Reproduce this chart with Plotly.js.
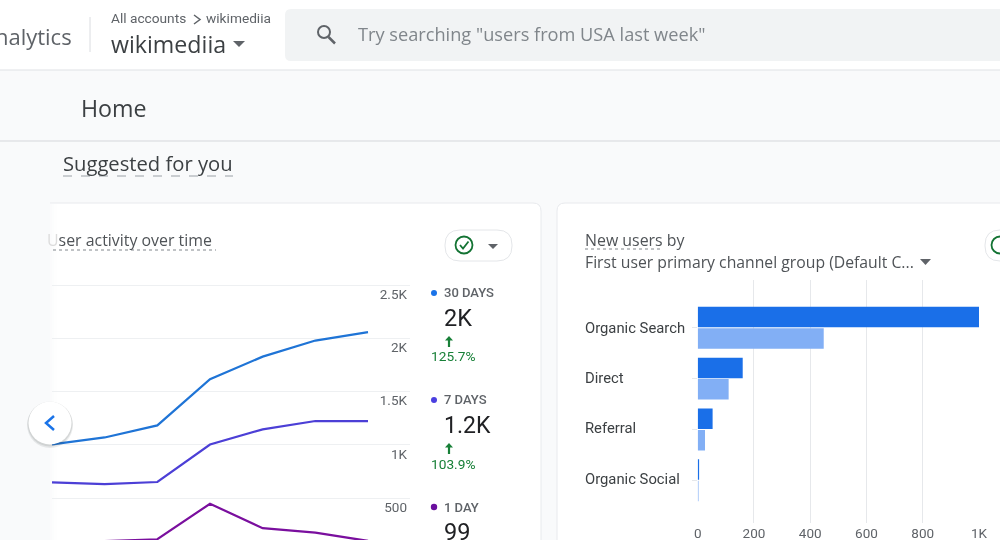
<!DOCTYPE html>
<html><head><meta charset="utf-8">
<script src="https://cdn.plot.ly/plotly-3.0.1.min.js"></script>
<style>html,body{margin:0;padding:0;overflow:hidden;background:#f9fafb;width:1000px;height:540px}#c{width:1000px;height:570px;filter:blur(0.35px)}</style>
</head><body><div id="c"></div>
<script>
const days = [0,1,2,3,4,5,6];
const users30 = [1004,1070,1183,1617,1828,1979,2058];
const users7 = [649,633,652,1004,1146,1224,1224];
const users1 = [82,95,115,448,219,177,99];
const lineTickVals = [500,1000,1500,2000,2500];
const lineTickText = ['500','1K','1.5K','2K','2.5K'];
const channels = ['Organic Search','Direct','Referral','Organic Social'];
const newUsers = [1000,160,53,5];
const newUsersPrev = [448,110,26,3];
const barTickVals = [0,200,400,600,800,1000];
const barTickText = ['0','200','400','600','800','1K'];

const W=1000,H=570;
const BG='#f9fafb';
const X=p=>p/W, Y=p=>1-p/H;
const SANS='Roboto, sans-serif', HEAD='"Open Sans", sans-serif';
function rect(x0,y0,x1,y1,fill,layer){return {type:'rect',xref:'paper',yref:'paper',x0:X(x0),x1:X(x1),y0:Y(y1),y1:Y(y0),fillcolor:fill,line:{width:0},layer:layer||'below'};}
function line(x0,y0,x1,y1,color,w,dash,layer){return {type:'line',xref:'paper',yref:'paper',x0:X(x0),x1:X(x1),y0:Y(y0),y1:Y(y1),line:{color:color,width:w||1,dash:dash||'solid'},layer:layer||'below'};}
function circle(cx,cy,r,fill,lc,lw,layer){return {type:'circle',xref:'paper',yref:'paper',x0:X(cx-r),x1:X(cx+r),y0:Y(cy+r),y1:Y(cy-r),fillcolor:fill,line:{color:lc||'rgba(0,0,0,0)',width:lw||0},layer:layer||'below'};}
function poly(pts,fill,lc,lw,closed,layer){const d=pts.map((p,i)=>(i?'L':'M')+X(p[0])+','+Y(p[1])).join(' ')+(closed?' Z':'');return {type:'path',xref:'paper',yref:'paper',path:d,fillcolor:fill||'rgba(0,0,0,0)',line:{color:lc||'rgba(0,0,0,0)',width:lw||0},layer:layer||'below'};}
function rrect(x0,y0,x1,y1,r,fill,lc,lw){const P=(x,y)=>X(x)+','+Y(y);
 const d='M'+P(x0+r,y0)+' L'+P(x1-r,y0)+' Q'+P(x1,y0)+' '+P(x1,y0+r)+' L'+P(x1,y1-r)+' Q'+P(x1,y1)+' '+P(x1-r,y1)+' L'+P(x0+r,y1)+' Q'+P(x0,y1)+' '+P(x0,y1-r)+' L'+P(x0,y0+r)+' Q'+P(x0,y0)+' '+P(x0+r,y0)+' Z';
 return {type:'path',xref:'paper',yref:'paper',path:d,fillcolor:fill,line:{color:lc||'rgba(0,0,0,0)',width:lw||0},layer:'below'};}
function label(t,x,y,size,color,anchor,font,weight){return {xref:'paper',yref:'paper',x:X(x),y:Y(y),text:t,showarrow:false,xanchor:anchor||'left',yanchor:'middle',font:{family:font||SANS,size:size,color:color,weight:weight||400},borderpad:0};}
const green='#188038', grey='#5f6368', dark='#3c4043';
function upArrow(cx,top,bottom){return [
 line(cx,bottom,cx,top+2,green,2.2),
 poly([[cx-4,top+4.5],[cx,top],[cx+4,top+4.5]],green,null,0,true)];}

const shapes=[
 rect(0,0,1000,70,'#ffffff'),
 line(0,70,1000,70,'#dfe1e5',1),
 line(0,141,1000,141,'#d5d7db',1),
 line(90,17,90,52,'#dadce0',1),
 rrect(285,9,1010,61,6,'#f1f3f4'),
 circle(324,32,6,'rgba(0,0,0,0)','#5f6368',2),
 line(328.5,37,335,43.5,'#5f6368',2.5),
 poly([[194,15],[200,19.5],[194,24]],null,'#5f6368',1.5,false),
 poly([[233,41],[245,41],[239,47]],'#5f6368',null,0,true),
 line(63,176,233,176,'#9aa0a6',1,'dash'),
 rrect(20,203,541,600,8,'#ffffff','#e8eaed',1),
 rect(0,195,50,600,BG),
 rect(50,204,52,600,'rgba(249,250,251,0.75)'),
 rect(52,204,54,600,'rgba(249,250,251,0.45)'),
 rect(54,204,57,600,'rgba(249,250,251,0.2)'),
 rrect(557,203,1010,600,8,'#ffffff','#e8eaed',1),
 line(53,250,216,250,'#80868b',1,'dot'),
 rrect(445,230,512,261,15,'#ffffff','#e4e6e9',1),
 circle(464,245,8.5,'#ffffff','#137333',1.8),
 poly([[460,245],[463,248.5],[468.5,241.5]],null,'#137333',1.8,false),
 poly([[488,244],[498,244],[493,249]],'#5f6368',null,0,true),
 rrect(985,230,1030,261,15,'#ffffff','#e4e6e9',1),
 circle(1000,245,8.5,'#ffffff','#137333',1.8),
 line(585,249,661,249,'#80868b',1,'dot'),
 poly([[920,259],[931,259],[925.5,265]],'#5f6368',null,0,true),
 circle(434,293,3,'#1a73e8'),
 circle(434,400,3,'#4a3fe0'),
 circle(434,507,3.2,'#6a0f9e'),
 ...upArrow(449,336,347),
 ...upArrow(449,443,454),
 circle(50,425,23,'rgba(60,64,67,0.10)',null,0,'above'),
 circle(50,424,22.5,'rgba(60,64,67,0.12)',null,0,'above'),
 circle(50,423,21.5,'#ffffff',null,0,'above'),
 poly([[54,416],[46,423],[54,430]],null,'#1a73e8',2.5,false,'above')
];

const annotations=[
 label('Analytics',73,36,22,grey,'right',HEAD),
 label('All accounts',110,18,13.7,grey,'left',SANS),
 label('wikimediia',205,18,13.7,grey,'left',SANS),
 label('wikimediia',110,44,23.2,dark,'left',HEAD),
 label('Try searching "users from USA last week"',357,34,18.2,'#80868b','left',HEAD),
 label('Home',80,107.5,23.2,dark,'left',HEAD),
 label('Suggested for you',62,162.5,20.2,dark,'left',HEAD),
 label('<span style="color:#dcdcdc">U</span>ser activity over time',46,240,15.9,'#4f5357','left',HEAD),
 label('New users by',584,240,15.9,'#4f5357','left',HEAD),
 label('First user primary channel group (Default C...',584,262,15.75,'#4f5357','left',HEAD),
 label('0',409,546,13.5,'#5f6368','right'),
 label('30 DAYS',443,292.5,13,'#5f6368','left',SANS,500),
 label('2K',443,318,23.5,'#202124','left',SANS),
 label('125.7%',430,356,13.7,green,'left',SANS),
 label('7 DAYS',443,399.5,13,'#5f6368','left',SANS,500),
 label('1.2K',443,425,23,'#202124','left',SANS),
 label('103.9%',430,464,13.7,green,'left',SANS),
 label('1 DAY',443,507,13,'#5f6368','left',SANS,500),
 label('99',443,532,23.5,'#202124','left',SANS)
];
channels.forEach((c,i)=>annotations.push({xref:'paper',yref:'y2',x:X(583),y:i,yshift:i?1:0,text:c,showarrow:false,xanchor:'left',yanchor:'middle',font:{family:SANS,size:14.8,color:dark}}));

const lineT=(y,c)=>({type:'scatter',mode:'lines',x:days,y:y,xaxis:'x',yaxis:'y',line:{color:c,width:2.2},hoverinfo:'skip',showlegend:false});
const data=[
 lineT(users30,'#1f74d6'),
 lineT(users7,'#4c3fd6'),
 lineT(users1,'#7a0f9e'),
 {type:'bar',orientation:'h',y:channels.map((c,i)=>i),x:newUsers,xaxis:'x2',yaxis:'y2',marker:{color:'#1a6fe8'},offsetgroup:'a',showlegend:false,hoverinfo:'skip'},
 {type:'bar',orientation:'h',y:channels.map((c,i)=>i),x:newUsersPrev,xaxis:'x2',yaxis:'y2',marker:{color:'#82aff5'},offsetgroup:'b',showlegend:false,hoverinfo:'skip'}
];
const layout={
 width:W,height:H,margin:{l:0,r:0,t:0,b:0},showlegend:false,
 paper_bgcolor:BG,plot_bgcolor:'rgba(0,0,0,0)',
 barmode:'group',bargap:0.16,bargroupgap:0.04,
 xaxis:{domain:[X(52),X(410)],range:[0,6.797],visible:false,fixedrange:true},
 yaxis:{domain:[Y(551.5),Y(283)],range:[0,2519],side:'right',anchor:'x',tickmode:'array',tickvals:lineTickVals,ticktext:lineTickText,
   ticklabelposition:'inside',ticklabelshift:9,showline:false,zeroline:false,gridcolor:'#eef0f2',gridwidth:1,ticks:'',tickfont:{family:SANS,size:13.5,color:'#5f6368'}},
 xaxis2:{domain:[X(697.7),X(979)],range:[0,1000],anchor:'y2',side:'bottom',tickmode:'array',tickvals:barTickVals,ticktext:barTickText,
   gridcolor:'#e6e8eb',gridwidth:1,zeroline:false,showline:false,ticks:'',tickfont:{family:SANS,size:13.5,color:'#5f6368'}},
 yaxis2:{domain:[Y(523),Y(280)],range:[3.84,-0.94],anchor:'x2',tickmode:'array',tickvals:[0,1,2,3],ticktext:['','','',''],showgrid:false,zeroline:false,showline:false,ticks:'outside',ticklen:5,tickcolor:'#e6e8eb'},
 shapes:shapes,annotations:annotations
};
Plotly.newPlot('c',data,layout,{staticPlot:true,displayModeBar:false});
</script></body></html>
